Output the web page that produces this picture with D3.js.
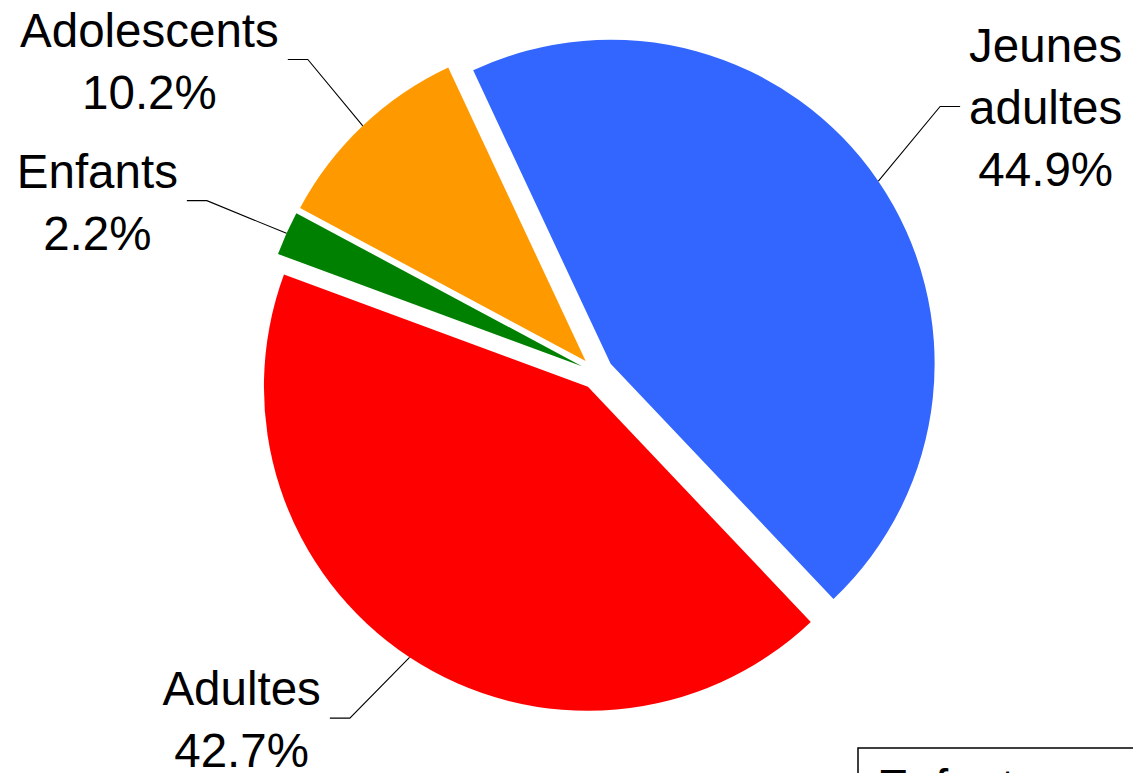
<!DOCTYPE html>
<html>
<head>
<meta charset="utf-8">
<script src="https://cdn.jsdelivr.net/npm/d3@7"></script>
<style>
  html, body { margin: 0; padding: 0; background: #fff; }
  svg { display: block; font-family: "Liberation Sans", Arial, Helvetica, sans-serif; }
</style>
</head>
<body>
<div id="chart"></div>
<script>
// Chart data
const names = ["Jeunes adultes", "Adultes", "Enfants", "Adolescents"];
const shares = [44.9, 42.7, 2.2, 10.2];
const colors = ["#3366ff", "#ff0000", "#008000", "#ff9900"];
// small angular nudges (degrees) and reach for the label elbows
const labelTilt = [-3.7, 2.3, -0.4, 0.8];
const labelReach = [418, 408, 410, 410];

const width = 1133, height = 773;
const cx = 597, cy = 373;
const radius = 324, explode = 16.5, tail = 20;
const fontSize = 47.5, lineH = 62, capH = 36;
const startAngle = -25.1 * Math.PI / 180;

const svg = d3.select("#chart")
    .append("svg")
    .attr("width", width)
    .attr("height", height);

const slices = names.map((n, i) => ({
    name: n, value: shares[i], color: colors[i], tilt: labelTilt[i], reach: labelReach[i]
}));

const pie = d3.pie()
    .sort(null)
    .value(d => d.value)
    .startAngle(startAngle)
    .endAngle(startAngle + 2 * Math.PI);

const arc = d3.arc().innerRadius(0).outerRadius(radius);
const polar = (r, a) => [r * Math.sin(a), -r * Math.cos(a)];

const arcs = pie(slices);

// Slices, each pushed out along its mid angle
const sliceG = svg.selectAll("g.slice")
    .data(arcs)
    .enter().append("g")
    .attr("class", "slice")
    .attr("transform", d => {
        const mid = (d.startAngle + d.endAngle) / 2;
        const [ox, oy] = polar(explode, mid);
        return `translate(${cx + ox},${cy + oy})`;
    });

sliceG.append("path")
    .attr("d", arc)
    .attr("fill", d => d.data.color);

// Leader lines and labels
sliceG.each(function(d) {
    const g = d3.select(this);
    const mid = (d.startAngle + d.endAngle) / 2;
    const p0 = polar(radius, mid);
    const p1 = polar(d.data.reach, mid + d.data.tilt * Math.PI / 180);
    const side = p1[0] > 0 ? 1 : -1;
    const p2 = [p1[0] + side * tail, p1[1]];

    g.append("polyline")
        .attr("points", [p0, p1, p2].map(p => p.join(",")).join(" "))
        .attr("fill", "none")
        .attr("stroke", "#000")
        .attr("stroke-width", 1.1);

    const lines = d.data.name.split(" ").concat([d.data.value.toFixed(1) + "%"]);
    const total = capH + (lines.length - 1) * lineH;
    const firstBase = p1[1] - total / 2 + capH;

    const lab = g.append("g");
    const texts = lab.selectAll("text")
        .data(lines)
        .enter().append("text")
        .attr("x", 0)
        .attr("y", (t, i) => firstBase + i * lineH)
        .attr("text-anchor", "middle")
        .style("font-size", fontSize + "px")
        .style("fill", "#000")
        .text(t => t);

    let w = 0;
    texts.each(function() { w = Math.max(w, this.getComputedTextLength()); });
    const xc = p2[0] + side * (9 + w / 2);
    texts.attr("x", xc);
});

// Legend box (mostly outside the visible area)
const legend = svg.append("g").attr("class", "legend");
legend.append("rect")
    .attr("x", 858)
    .attr("y", 748)
    .attr("width", 320)
    .attr("height", 200)
    .attr("fill", "#fff")
    .attr("stroke", "#000")
    .attr("stroke-width", 1.5);
legend.append("text")
    .attr("x", 877)
    .attr("y", 803)
    .style("font-size", fontSize + "px")
    .style("fill", "#000")
    .text("Enfants");
</script>
</body>
</html>
